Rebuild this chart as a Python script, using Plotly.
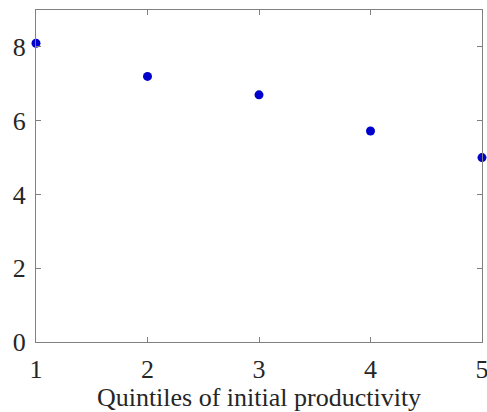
import plotly.graph_objects as go

quintiles = [1, 2, 3, 4, 5]
values = [8.1, 7.2, 6.7, 5.72, 5.0]
x_ticks = [1, 2, 3, 4, 5]
y_ticks = [0, 2, 4, 6, 8]
x_title = "Quintiles of initial productivity"

FONT = "Liberation Serif, Times New Roman, Times, serif"

fig = go.Figure()
fig.add_trace(go.Scatter(
    x=quintiles, y=values, mode="markers",
    marker=dict(color="#0000CC", size=9),
    cliponaxis=False, showlegend=False,
))

axis_common = dict(
    showline=True, linecolor="#808080", linewidth=1, mirror="allticks",
    ticks="inside", ticklen=5, tickcolor="#808080", tickwidth=1,
    showgrid=False, zeroline=False, ticklabeloverflow="allow",
    automargin=False,
    tickfont=dict(family=FONT, size=26, color="#262626"),
)

fig.update_layout(
    width=487, height=412,
    margin=dict(l=36, r=5, t=10, b=70),
    paper_bgcolor="white", plot_bgcolor="white",
    xaxis=dict(range=[1, 5], tickvals=x_ticks, ticklabelstandoff=4,
               title=dict(text=x_title, font=dict(family=FONT, size=26, color="#262626"), standoff=7),
               **axis_common),
    yaxis=dict(range=[0, 9], tickvals=y_ticks, ticklabelstandoff=4, **axis_common),
)

fig.write_html("out.html")
